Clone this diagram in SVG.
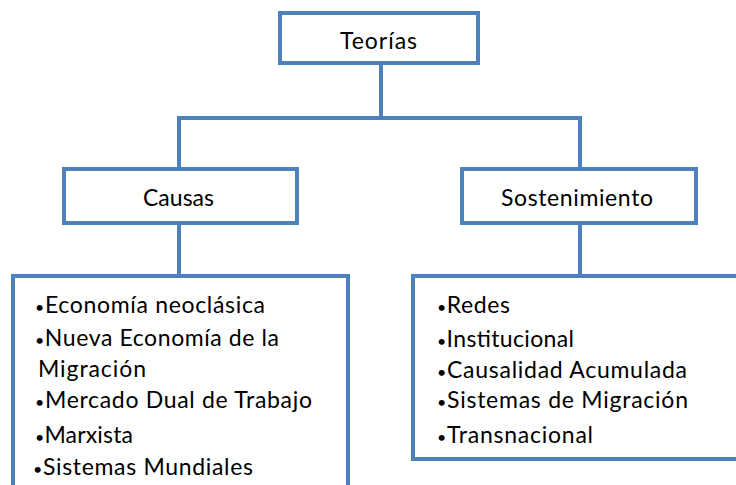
<svg xmlns="http://www.w3.org/2000/svg" width="736" height="485" viewBox="0 0 736 485">
<style>
.box{fill:#fff;stroke:#4F81BD;stroke-width:4}
.ln{fill:none;stroke:#4F81BD;stroke-width:4}
text{font-family:Lato,"Open Sans","Liberation Sans",sans-serif;font-size:23px;fill:#000}
.b{font-size:16px}
</style>
<rect width="736" height="485" fill="#fff"/>
<g id="connectors">
<path class="ln" d="M381 63V118M179 169V118H580V169M179 223V276M580 223V276"/>
</g>
<g id="teorias">
<rect class="box" x="280" y="13" width="198" height="50"/>
<text x="340" y="49" textLength="77" lengthAdjust="spacing">Teorías</text>
</g>
<g id="causas">
<rect class="box" x="64" y="169" width="233" height="54"/>
<text x="143" y="206" textLength="71" lengthAdjust="spacing">Causas</text>
</g>
<g id="sostenimiento">
<rect class="box" x="462" y="169" width="234" height="54"/>
<text x="501" y="206" textLength="152" lengthAdjust="spacing">Sostenimiento</text>
</g>
<g id="causas-list">
<rect class="box" x="13" y="276" width="335" height="220"/>
<text x="35" y="313" textLength="230" lengthAdjust="spacing"><tspan class="b">•</tspan>Economía neoclásica</text>
<text x="35" y="346" textLength="244" lengthAdjust="spacing"><tspan class="b">•</tspan>Nueva Economía de la</text>
<text x="38" y="377" textLength="108" lengthAdjust="spacing">Migración</text>
<text x="35" y="408" textLength="277" lengthAdjust="spacing"><tspan class="b">•</tspan>Mercado Dual de Trabajo</text>
<text x="35" y="443" textLength="98" lengthAdjust="spacing"><tspan class="b">•</tspan>Marxista</text>
<text x="33" y="475" textLength="220" lengthAdjust="spacing"><tspan class="b">•</tspan>Sistemas Mundiales</text>
</g>
<g id="sostenimiento-list">
<rect class="box" x="413" y="276" width="340" height="183"/>
<text x="437" y="313" textLength="73" lengthAdjust="spacing"><tspan class="b">•</tspan>Redes</text>
<text x="437" y="347" textLength="137" lengthAdjust="spacing"><tspan class="b">•</tspan>Institucional</text>
<text x="437" y="378" textLength="250" lengthAdjust="spacing"><tspan class="b">•</tspan>Causalidad  Acumulada</text>
<text x="437" y="408" textLength="251" lengthAdjust="spacing"><tspan class="b">•</tspan>Sistemas  de Migración</text>
<text x="437" y="443" textLength="156" lengthAdjust="spacing"><tspan class="b">•</tspan>Transnacional</text>
</g>
</svg>
